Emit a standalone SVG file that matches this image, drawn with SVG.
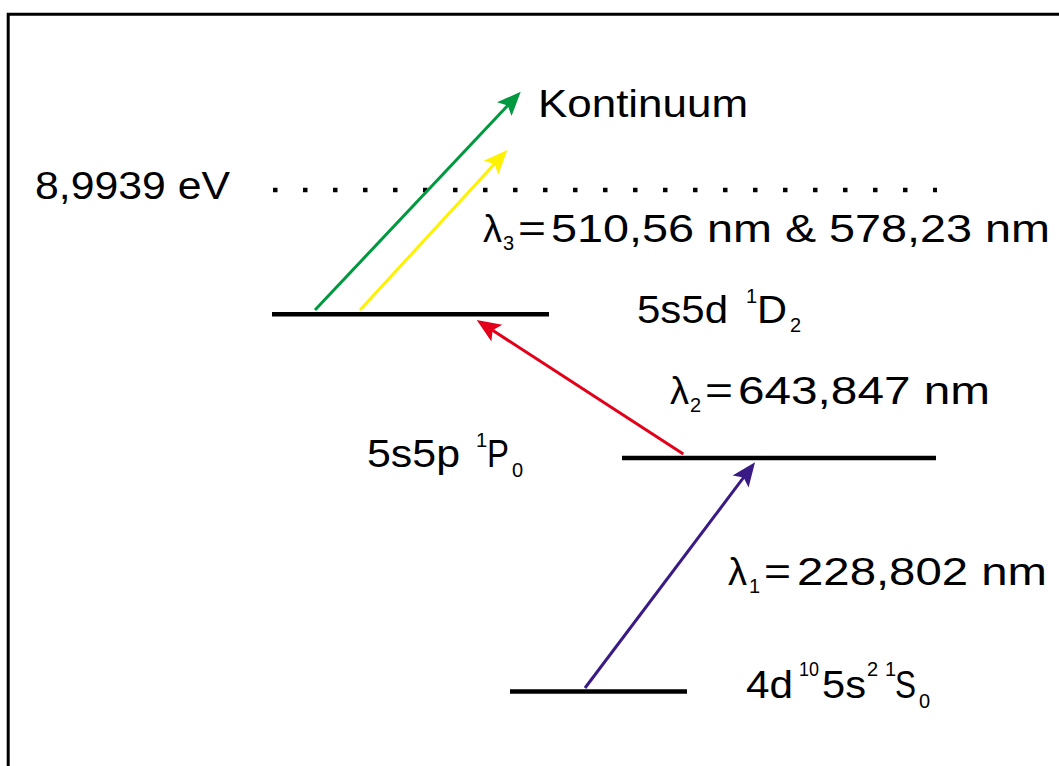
<svg xmlns="http://www.w3.org/2000/svg" width="1059" height="766" viewBox="0 0 1059 766">
<style>
text{font-family:"Liberation Sans",Arial,sans-serif;fill:#000;}
.m{font-size:38px;}
.s{font-size:20px;}
.lvl{stroke:#000;stroke-width:4.5;fill:none;}
.arr{stroke-width:3;fill:none;}
</style>
<defs>
<marker id="hg" markerUnits="userSpaceOnUse" orient="auto" markerWidth="40" markerHeight="40" refX="0" refY="0" viewBox="-10 -15 40 30" overflow="visible"><path d="M18,0 L-6,-10 L-1,0 L-6,10 Z" fill="#00993f"/></marker>
<marker id="hy" markerUnits="userSpaceOnUse" orient="auto" markerWidth="40" markerHeight="40" refX="0" refY="0" viewBox="-10 -15 40 30" overflow="visible"><path d="M18,0 L-6,-10 L-1,0 L-6,10 Z" fill="#fff200"/></marker>
<marker id="hr" markerUnits="userSpaceOnUse" orient="auto" markerWidth="40" markerHeight="40" refX="0" refY="0" viewBox="-10 -15 40 30" overflow="visible"><path d="M18,0 L-6,-10 L-1,0 L-6,10 Z" fill="#e2001a"/></marker>
<marker id="hp" markerUnits="userSpaceOnUse" orient="auto" markerWidth="40" markerHeight="40" refX="0" refY="0" viewBox="-10 -15 40 30" overflow="visible"><path d="M18,0 L-6,-10 L-1,0 L-6,10 Z" fill="#3a1a85"/></marker>
</defs>
<rect width="1059" height="766" fill="#fff"/>
<path d="M8.2,766 V14.2 H1059" stroke="#000" stroke-width="3" fill="none"/>

<g id="continuum">
<text class="m" x="538" y="117" textLength="210" lengthAdjust="spacingAndGlyphs">Kontinuum</text>
</g>
<g id="ionization">
<text class="m" x="35" y="199" textLength="195" lengthAdjust="spacingAndGlyphs">8,9939 eV</text>
<line x1="273" y1="190" x2="937" y2="190" stroke="#000" stroke-width="4.5" stroke-dasharray="4.5 25.5"/>
</g>
<g id="lambda3">
<text class="m" x="483" y="242">λ</text>
<text class="s" x="503" y="250">3</text>
<text class="m" x="518" y="242" textLength="28" lengthAdjust="spacingAndGlyphs">=</text>
<text class="m" x="551" y="242" textLength="499" lengthAdjust="spacingAndGlyphs">510,56 nm &amp; 578,23 nm</text>
</g>
<g id="level-5s5d">
<line class="lvl" x1="272" y1="314.3" x2="549" y2="314.3"/>
<text class="m" x="637" y="323" textLength="91" lengthAdjust="spacingAndGlyphs">5s5d</text>
<text class="s" x="746" y="303">1</text>
<text class="m" x="757" y="323" textLength="30" lengthAdjust="spacingAndGlyphs">D</text>
<text class="s" x="790" y="332">2</text>
</g>
<g id="lambda2">
<text class="m" x="670" y="404">λ</text>
<text class="s" x="690" y="412">2</text>
<text class="m" x="705" y="404" textLength="28" lengthAdjust="spacingAndGlyphs">=</text>
<text class="m" x="738" y="404" textLength="252" lengthAdjust="spacingAndGlyphs">643,847 nm</text>
</g>
<g id="level-5s5p">
<line class="lvl" x1="622" y1="458" x2="936" y2="458"/>
<text class="m" x="367" y="467" textLength="93" lengthAdjust="spacingAndGlyphs">5s5p</text>
<text class="s" x="476" y="447">1</text>
<text class="m" x="487" y="467" textLength="22" lengthAdjust="spacingAndGlyphs">P</text>
<text class="s" x="512" y="477">0</text>
</g>
<g id="lambda1">
<text class="m" x="728" y="585">λ</text>
<text class="s" x="749" y="593">1</text>
<text class="m" x="764" y="585" textLength="27" lengthAdjust="spacingAndGlyphs">=</text>
<text class="m" x="797" y="585" textLength="250" lengthAdjust="spacingAndGlyphs">228,802 nm</text>
</g>
<g id="level-ground">
<line class="lvl" x1="510" y1="691.5" x2="687" y2="691.5"/>
<text class="m" x="746" y="698" textLength="47" lengthAdjust="spacingAndGlyphs">4d</text>
<text class="s" x="799" y="676" textLength="20" lengthAdjust="spacingAndGlyphs">10</text>
<text class="m" x="822" y="698" textLength="44" lengthAdjust="spacingAndGlyphs">5s</text>
<text class="s" x="867" y="676">2</text>
<text class="s" x="885" y="676">1</text>
<text class="m" x="895" y="698" textLength="21" lengthAdjust="spacingAndGlyphs">S</text>
<text class="s" x="919" y="708">0</text>
</g>
<g id="connectors">
<line class="arr" x1="315" y1="310" x2="508.4" y2="104.8" stroke="#00993f" marker-end="url(#hg)"/>
<line class="arr" x1="360" y1="310" x2="495.1" y2="163.2" stroke="#fff200" marker-end="url(#hy)"/>
<line class="arr" x1="683.3" y1="454" x2="491.8" y2="329.8" stroke="#e2001a" marker-end="url(#hr)"/>
<line class="arr" x1="585" y1="688" x2="744.2" y2="476.7" stroke="#3a1a85" marker-end="url(#hp)"/>
</g>
</svg>
